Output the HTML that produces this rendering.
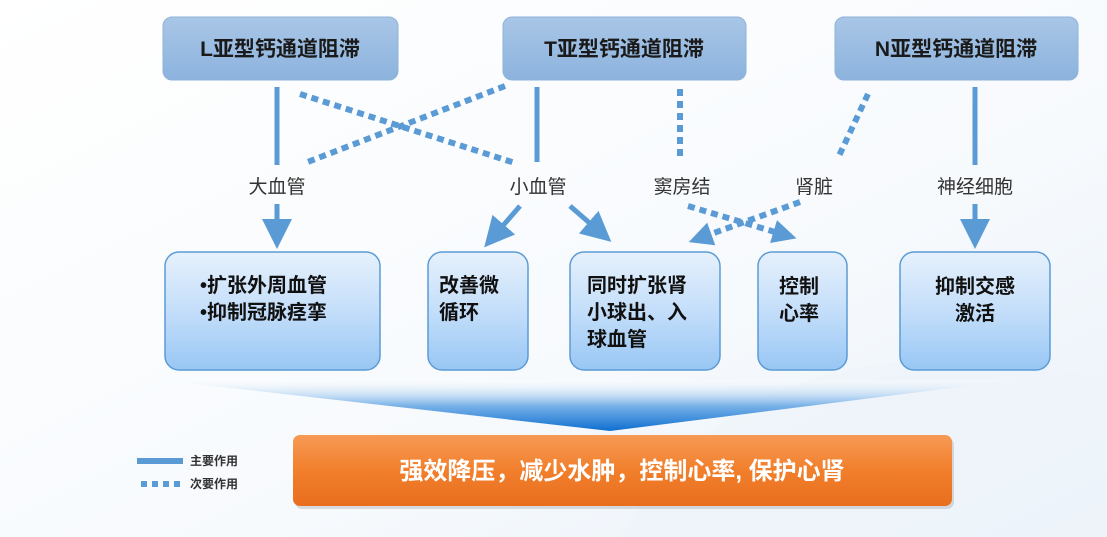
<!DOCTYPE html>
<html><head><meta charset="utf-8"><style>
html,body{margin:0;padding:0;background:#fff;}
svg{display:block;font-family:"Liberation Sans","Noto Sans CJK SC",sans-serif;}
</style></head><body>
<svg width="1107" height="537" viewBox="0 0 1107 537" xmlns="http://www.w3.org/2000/svg">
<defs>
<linearGradient id="bg" x1="0" y1="0" x2="1" y2="1">
<stop offset="0" stop-color="#ffffff"/><stop offset="0.6" stop-color="#f7fafd"/><stop offset="1" stop-color="#e9f1f9"/>
</linearGradient>
<linearGradient id="top" x1="0" y1="0" x2="0" y2="1">
<stop offset="0" stop-color="#a9c6e6"/><stop offset="1" stop-color="#8cb3de"/>
</linearGradient>
<linearGradient id="box" x1="0" y1="0" x2="0" y2="1">
<stop offset="0" stop-color="#e6f1fc"/><stop offset="0.5" stop-color="#c4defa"/><stop offset="1" stop-color="#98c7f4"/>
</linearGradient>
<linearGradient id="fun" x1="0" y1="0" x2="0" y2="1">
<stop offset="0" stop-color="#ffffff" stop-opacity="0.2"/><stop offset="0.5" stop-color="#7ab2e8"/><stop offset="1" stop-color="#0e6fd0"/>
</linearGradient>
<linearGradient id="org" x1="0" y1="0" x2="0" y2="1">
<stop offset="0" stop-color="#f79a55"/><stop offset="0.5" stop-color="#f17f2c"/><stop offset="1" stop-color="#e86e1e"/>
</linearGradient>
<marker id="ah" markerWidth="6" markerHeight="6" refX="3" refY="3" orient="auto" markerUnits="strokeWidth">
<path d="M0,0 L6,3 L0,6 z" fill="#5b9bd5"/></marker>
<marker id="ah2" markerWidth="4" markerHeight="4" refX="2" refY="2" orient="auto" markerUnits="strokeWidth">
<path d="M0,0 L4,2 L0,4 z" fill="#5b9bd5"/></marker>
</defs>
<rect width="1107" height="537" fill="url(#bg)"/>
<path d="M620,537 Q760,300 1107,380 L1107,537 Z" fill="#eef4fa" opacity="0.7"/>

<g fill="url(#top)" stroke="#8fb2d9" stroke-width="1">
<rect x="163" y="17" width="235" height="63" rx="9"/>
<rect x="503" y="17" width="243" height="63" rx="9"/>
<rect x="835" y="17" width="243" height="63" rx="9"/>
</g>
<g font-size="21" font-weight="bold" fill="#1a1a1a" text-anchor="middle">
<text x="280" y="56">L亚型钙通道阻滞</text>
<text x="624" y="56">T亚型钙通道阻滞</text>
<text x="956" y="56">N亚型钙通道阻滞</text>
</g>

<g stroke="#5b9bd5" fill="none">
<line x1="277" y1="87" x2="277" y2="165" stroke-width="5"/>
<line x1="277" y1="204" x2="277" y2="234" stroke-width="5" marker-end="url(#ah)"/>
<line x1="537" y1="87" x2="537" y2="162" stroke-width="5"/>
<line x1="520" y1="206" x2="494" y2="236" stroke-width="5" marker-end="url(#ah)"/>
<line x1="570" y1="206" x2="600" y2="232" stroke-width="5" marker-end="url(#ah)"/>
<line x1="975" y1="87" x2="975" y2="165" stroke-width="5"/>
<line x1="975" y1="204" x2="975" y2="234" stroke-width="5" marker-end="url(#ah)"/>
<g stroke-width="6" stroke-dasharray="7,5">
<line x1="300" y1="94" x2="515" y2="163"/>
<line x1="505" y1="86" x2="305" y2="163"/>
<line x1="680" y1="89" x2="680" y2="160"/>
<line x1="868" y1="94" x2="838" y2="158"/>
<line x1="688" y1="206" x2="785" y2="235" marker-end="url(#ah2)"/>
<line x1="800" y1="202" x2="700" y2="238" marker-end="url(#ah2)"/>
</g>
</g>
<g font-size="19" fill="#333" text-anchor="middle">
<text x="277" y="193">大血管</text>
<text x="538" y="193">小血管</text>
<text x="682" y="193">窦房结</text>
<text x="814" y="193">肾脏</text>
<text x="975" y="193">神经细胞</text>
</g>

<g fill="url(#box)" stroke="#5b9bd5" stroke-width="1.5">
<rect x="165" y="252" width="215" height="118" rx="14"/>
<rect x="428" y="252" width="100" height="118" rx="14"/>
<rect x="570" y="252" width="150" height="118" rx="14"/>
<rect x="758" y="252" width="89" height="118" rx="14"/>
<rect x="900" y="252" width="150" height="118" rx="14"/>
</g>
<g font-size="20" font-weight="bold" fill="#111">
<text x="200" y="292">•扩张外周血管</text>
<text x="200" y="319">•抑制冠脉痉挛</text>
<text x="439" y="292">改善微</text>
<text x="439" y="319">循环</text>
<text x="587" y="292">同时扩张肾</text>
<text x="587" y="319">小球出、入</text>
<text x="587" y="346">球血管</text>
<text x="779" y="293">控制</text>
<text x="779" y="320">心率</text>
<text x="975" y="293" text-anchor="middle">抑制交感</text>
<text x="975" y="320" text-anchor="middle">激活</text>
</g>

<path d="M160,380 L1015,380 L610,431 Z" fill="url(#fun)"/>

<rect x="295" y="438" width="659" height="71" rx="7" fill="#000" opacity="0.12"/>
<rect x="293" y="435" width="659" height="71" rx="7" fill="url(#org)"/>
<text x="622" y="479" font-size="24" font-weight="bold" fill="#fff" text-anchor="middle">强效降压，减少水肿，控制心率, 保护心肾</text>

<line x1="137" y1="461" x2="183" y2="461" stroke="#5b9bd5" stroke-width="6"/>
<line x1="141" y1="484" x2="183" y2="484" stroke="#5b9bd5" stroke-width="6" stroke-dasharray="6,5"/>
<g font-size="12" font-weight="bold" fill="#333">
<text x="190" y="465">主要作用</text>
<text x="190" y="488">次要作用</text>
</g>
</svg>
</body></html>
